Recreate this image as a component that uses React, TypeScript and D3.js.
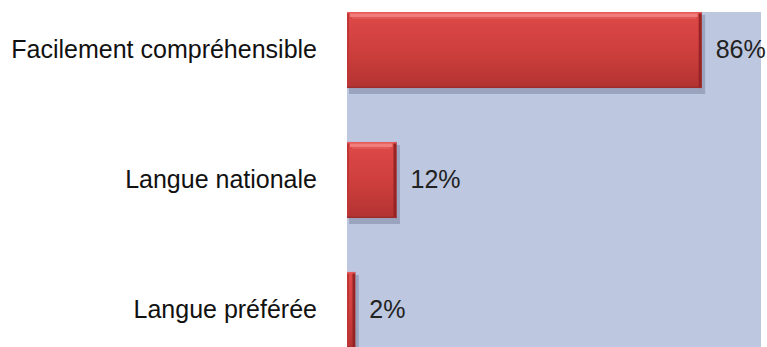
import React from "react";
import * as d3 from "d3";

const categories = ["Facilement compréhensible", "Langue nationale", "Langue préférée"];
const values = [86, 12, 2];
const valueLabels = ["86%", "12%", "2%"];

const W = 767;
const H = 347;
const plotLeft = 347;
const plotRight = 761;
const plotTop = 12;

export default function App() {
  const x = d3.scaleLinear().domain([0, 100]).range([plotLeft, 759.4]);
  const y = d3
    .scaleBand<string>()
    .domain(categories)
    .range([-15, 375])
    .paddingInner(0.415)
    .paddingOuter(0.2075);
  const bw = y.bandwidth();

  return (
    <svg
      width={W}
      height={H}
      style={{ position: "absolute", left: 0, top: 0, display: "block" }}
      fontFamily="Arial, 'Liberation Sans', sans-serif"
    >
      <defs>
        <linearGradient id="barGrad" x1="0" y1="0" x2="0" y2="1">
          <stop offset="0" stopColor="#DE4A48" />
          <stop offset="0.55" stopColor="#CC3E3C" />
          <stop offset="1" stopColor="#B23332" />
        </linearGradient>
        <clipPath id="plotClip">
          <rect x={plotLeft} y={plotTop} width={plotRight - plotLeft} height={H - plotTop} />
        </clipPath>
      </defs>
      <rect x={0} y={0} width={W} height={H} fill="#ffffff" />
      <rect x={plotLeft} y={plotTop} width={plotRight - plotLeft} height={H - plotTop} fill="#BDC7E0" />
      <g clipPath="url(#plotClip)">
        {categories.map((c, i) => {
          const y0 = y(c)!;
          const x0 = x(0);
          const w = x(values[i]) - x0;
          return (
            <g key={c}>
              <rect x={x0 + 2} y={y0 + 3} width={w + 1.5} height={bw + 3} fill="#7E86A4" opacity={0.55} />
              <rect x={x0} y={y0} width={w} height={bw} fill="url(#barGrad)" />
              <rect x={x0} y={y0} width={Math.min(2, w)} height={bw} fill="#C03636" />
              <rect x={x0 + w - Math.min(3, w / 3)} y={y0} width={Math.min(3, w / 3)} height={bw} fill="#962424" />
              <rect x={x0} y={y0} width={w} height={1.5} fill="#E65A58" />
              {w > 10 && (
                <rect x={x0 + 3} y={y0 + 1.5} width={w - 7} height={3.5} fill="#F07E7C" />
              )}
              {w > 10 && (
                <rect x={x0 + 5} y={y0 + 5} width={w - 11} height={2} fill="#E4605E" opacity={0.7} />
              )}
              <rect x={x0} y={y0 + bw - 1.5} width={w} height={1.5} fill="#9E2C2C" />
            </g>
          );
        })}
      </g>
      {categories.map((c) => (
        <text
          key={"c" + c}
          x={317}
          y={y(c)! + bw / 2}
          dy="0.33em"
          textAnchor="end"
          fontSize={25}
          fill="#111111"
        >
          {c}
        </text>
      ))}
      {categories.map((c, i) => (
        <text
          key={"v" + c}
          x={x(values[i]) + 14}
          y={y(c)! + bw / 2}
          dy="0.33em"
          textAnchor="start"
          fontSize={25}
          fill="#222222"
        >
          {valueLabels[i]}
        </text>
      ))}
    </svg>
  );
}
